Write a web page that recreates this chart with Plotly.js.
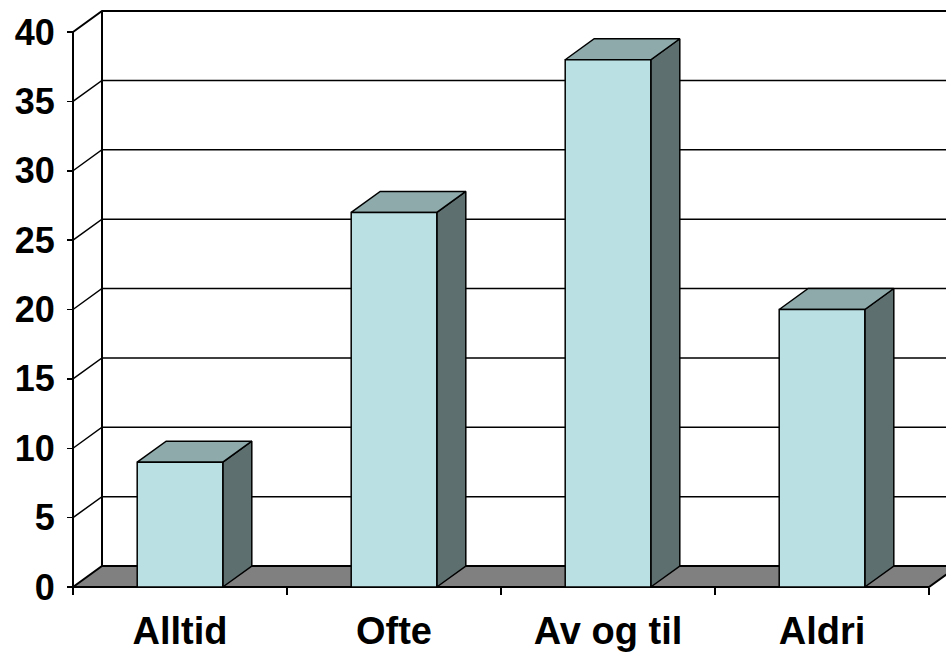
<!DOCTYPE html>
<html>
<head>
<meta charset="utf-8">
<script src="https://cdn.plot.ly/plotly-3.0.1.min.js"></script>
<style>
  html, body { margin: 0; padding: 0; background: #ffffff; }
  #chart { width: 946px; height: 655px; }
</style>
</head>
<body>
<div id="chart"></div>
<script>
// Answer categories and their values
const categories = ['Alltid', 'Ofte', 'Av og til', 'Aldri'];
const values = [9, 27, 38, 20];
// Value axis ticks
const yTicks = [0, 5, 10, 15, 20, 25, 30, 35, 40];

// Pseudo-3D look: depth offset of the back wall, in axis units
const DX = 0.1355;   // along the category axis
const DY = 1.5135;   // along the value axis
const HALF = 0.2;    // half of a bar's width (category units)
const X0 = -0.5, X1 = categories.length - 0.5;
const YMAX = yTicks[yTicks.length - 1];

const colFront = '#bbe0e3';
const colTop = '#8eaaab';
const colSide = '#5e6f70';
const colFloor = '#808080';

function poly(xs, ys, fill, width) {
  return {
    x: xs, y: ys, type: 'scatter', mode: 'lines',
    fill: 'toself', fillcolor: fill,
    line: { color: '#000000', width: width || 1.5 },
    hoverinfo: 'skip', showlegend: false
  };
}
function lines(xs, ys, width) {
  return {
    x: xs, y: ys, type: 'scatter', mode: 'lines',
    line: { color: '#000000', width: width },
    hoverinfo: 'skip', showlegend: false
  };
}

const traces = [];

// Back wall gridlines with their slanted continuation on the side wall
const gx = [], gy = [];
yTicks.filter(v => v > 0 && v < YMAX).forEach(v => {
  gx.push(X0, X0 + DX, X1 + DX, null);
  gy.push(v, v + DY, v + DY, null);
});
traces.push(lines(gx, gy, 1.5));

// Top edge of the walls
traces.push(lines([X0, X0 + DX, X1 + DX], [YMAX, YMAX + DY, YMAX + DY], 2));

// Wall edges: front value axis and back-left corner
traces.push(lines([X0, X0, null, X0 + DX, X0 + DX],
                  [0, YMAX, null, DY, YMAX + DY], 2));

// Floor
traces.push(poly([X0, X1, X1 + DX, X0 + DX, X0], [0, 0, DY, DY, 0], colFloor, 2));

// Bars: front, top and side faces
const fx = [], fy = [], tx = [], ty = [], sx = [], sy = [];
categories.forEach((c, i) => {
  const a = i - HALF, b = i + HALF, v = values[i];
  fx.push(a, b, b, a, a, null);               fy.push(0, 0, v, v, 0, null);
  tx.push(a, b, b + DX, a + DX, a, null);     ty.push(v, v, v + DY, v + DY, v, null);
  sx.push(b, b + DX, b + DX, b, b, null);     sy.push(0, DY, v + DY, v, 0, null);
});
traces.push(poly(sx, sy, colSide));
traces.push(poly(tx, ty, colTop));
traces.push(poly(fx, fy, colFront));

// Category labels live on a second x axis; this invisible trace anchors it
traces.push({
  x: categories.map((c, i) => i), y: values, xaxis: 'x2', yaxis: 'y',
  type: 'scatter', mode: 'none', hoverinfo: 'skip', showlegend: false
});

// Pixel layout of the plotting area
const W = 946, H = 655;
const mL = 40, mR = 0, mT = 0, mB = 40;
const plotW = W - mL - mR, plotH = H - mT - mB;
const pxPerCat = 214, pxPerUnit = 13.875;
const axisX = 73, axisY = 587;
const xRange = [X0 - (axisX - mL) / pxPerCat, X0 + (W - mR - axisX) / pxPerCat];
const yRange = [-(H - mB - axisY) / pxPerUnit, (axisY - mT) / pxPerUnit];

const family = 'Liberation Sans, Arial, sans-serif';
const boundaries = [];
for (let i = 0; i <= categories.length; i++) boundaries.push(i - 0.5);

const layout = {
  width: W, height: H,
  margin: { l: mL, r: mR, t: mT, b: mB, pad: 0 },
  paper_bgcolor: '#ffffff', plot_bgcolor: '#ffffff',
  showlegend: false, hovermode: false,
  font: { family: family, color: '#000000' },
  xaxis: {
    range: xRange, fixedrange: true,
    anchor: 'free', position: (H - mB - axisY) / plotH,
    showgrid: false, zeroline: false, showline: false,
    tickmode: 'array', tickvals: boundaries,
    ticks: 'outside', ticklen: 7, tickwidth: 1.5, tickcolor: '#000000',
    showticklabels: false
  },
  xaxis2: {
    overlaying: 'x', range: xRange, fixedrange: true,
    anchor: 'free', position: (H - mB - axisY) / plotH, side: 'bottom',
    showgrid: false, zeroline: false, showline: false,
    tickmode: 'array', tickvals: categories.map((c, i) => i), ticktext: categories,
    ticks: 'outside', ticklen: 10, tickcolor: 'rgba(0,0,0,0)',
    tickfont: { family: family, size: 38, color: '#000000', weight: 'bold' }
  },
  yaxis: {
    range: yRange, fixedrange: true,
    anchor: 'free', position: (axisX - mL) / plotW,
    showgrid: false, zeroline: false, showline: false,
    tickmode: 'array', tickvals: yTicks,
    ticks: 'outside', ticklen: 6, tickwidth: 1.5, tickcolor: '#000000',
    ticklabelstandoff: 5,
    tickfont: { family: family, size: 36, color: '#000000', weight: 'bold' }
  }
};

Plotly.newPlot('chart', traces, layout, { staticPlot: true, displayModeBar: false });
</script>
</body>
</html>
